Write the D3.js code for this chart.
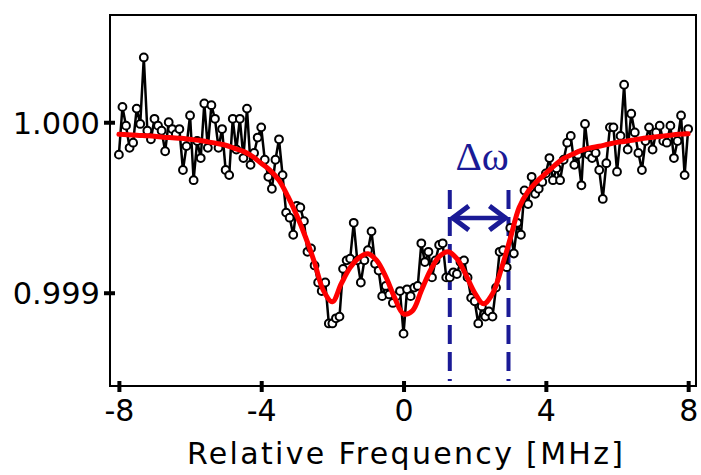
<!DOCTYPE html>
<html>
<head>
<meta charset="utf-8">
<script src="https://cdn.jsdelivr.net/npm/d3@7/dist/d3.min.js"></script>
<style>
  html, body { margin: 0; padding: 0; background: #fff; }
  svg { display: block; }
</style>
</head>
<body>
<svg id="chart" width="701" height="475"></svg>
<script>
// Measured transmission, one sample every 0.1 MHz from -8 to +8 MHz
const freqStart = -8;
const freqStep = 0.1;
const signal = [
  0.99981, 1.00009, 0.99998, 0.99985, 0.99988, 1.00008, 0.99999, 1.00038, 0.99995, 0.99990,
  1.00002, 0.99998, 0.99995, 0.99983, 1.00000, 0.99996, 0.99993, 0.99996, 0.99972, 0.99986,
  1.00004, 0.99966, 0.99989, 0.99979, 1.00011, 0.99985, 1.00010, 1.00002, 0.99985, 0.99996,
  0.99972, 0.99969, 1.00002, 0.99984, 1.00002, 0.99979, 1.00008, 0.99975, 0.99982, 0.99991,
  0.99997, 0.99978, 0.99968, 0.99961, 0.99978, 0.99990, 0.99969, 0.99947, 0.99944, 0.99934,
  0.99951, 0.99950, 0.99942, 0.99924, 0.99926, 0.99916, 0.99906, 0.99901, 0.99906, 0.99882,
  0.99882, 0.99885, 0.99886, 0.99914, 0.99919, 0.99920, 0.99941, 0.99919, 0.99906, 0.99919,
  0.99925, 0.99936, 0.99917, 0.99913, 0.99898, 0.99904, 0.99899, 0.99894, 0.99898, 0.99901,
  0.99876, 0.99902, 0.99898, 0.99903, 0.99904, 0.99929, 0.99918, 0.99924, 0.99909, 0.99919,
  0.99928, 0.99929, 0.99909, 0.99909, 0.99912, 0.99911, 0.99918, 0.99919, 0.99909, 0.99897,
  0.99895, 0.99882, 0.99892, 0.99886, 0.99889, 0.99886, 0.99903, 0.99924, 0.99925, 0.99915,
  0.99938, 0.99923, 0.99941, 0.99934, 0.99960, 0.99952, 0.99968, 0.99958, 0.99961, 0.99965,
  0.99970, 0.99979, 0.99966, 0.99973, 0.99966, 0.99978, 0.99988, 0.99992, 0.99975, 0.99981,
  0.99963, 0.99999, 0.99981, 0.99979, 0.99982, 0.99972, 0.99955, 0.99976, 0.99997, 0.99997,
  0.99971, 0.99992, 1.00022, 0.99984, 1.00005, 0.99994, 0.99982, 0.99972, 0.99989, 0.99997,
  0.99984, 0.99994, 0.99998, 0.99989, 0.99988, 0.99998, 0.99979, 0.99989, 1.00004, 0.99969,
  0.99996
];

// Fitted line shape, sampled every 0.25 MHz from -8 to +8 MHz
const fitStep = 0.25;
const fit = [
  0.999929, 0.999926, 0.999924, 0.999921, 0.999918, 0.999912, 0.999909, 0.999906, 0.999900,
  0.999894, 0.999885, 0.999876, 0.999865, 0.999847, 0.999829, 0.999800, 0.999759, 0.999718,
  0.999659, 0.999565, 0.999453, 0.999324, 0.999176, 0.999012, 0.998947, 0.999053, 0.999147,
  0.999206, 0.999229, 0.999188, 0.999094, 0.998971, 0.998876, 0.998894, 0.999012, 0.999129,
  0.999212, 0.999241, 0.999200, 0.999106, 0.999000, 0.998935, 0.998994, 0.999141, 0.999318,
  0.999500, 0.999594, 0.999653, 0.999700, 0.999747, 0.999788, 0.999812, 0.999835, 0.999850,
  0.999859, 0.999871, 0.999882, 0.999888, 0.999897, 0.999906, 0.999912, 0.999918, 0.999924,
  0.999929, 0.999932
];

const xTicks = [-8, -4, 0, 4, 8];
const yTicks = [0.999, 1.000];
const yTickLabels = ["0.999", "1.000"];
const xTitle = "Relative Frequency [MHz]";
const widthLabel = "\u0394\u03C9";
// Frequency interval marked as the splitting width
const markerRange = [1.3, 2.95];

const svg = d3.select("#chart");
const frame = { left: 110, right: 696, top: 15, bottom: 386 };

const x = d3.scaleLinear().domain([-8.25, 8.22]).range([frame.left, frame.right]);
const y = d3.scaleLinear().domain([0.998453, 1.000629]).range([frame.bottom, frame.top]);

const points = signal.map((v, i) => ({ f: freqStart + i * freqStep, v }));
const fitPts = fit.map((v, i) => ({ f: freqStart + i * fitStep, v }));

const navy = "#1a1a96";
const sans = "DejaVu Sans, sans-serif";

// Plot frame
svg.append("rect")
  .attr("x", frame.left).attr("y", frame.top)
  .attr("width", frame.right - frame.left).attr("height", frame.bottom - frame.top)
  .attr("fill", "none").attr("stroke", "#000").attr("stroke-width", 2);

// X axis ticks and labels
const xAxis = svg.append("g").attr("transform", `translate(0,${frame.bottom})`)
  .call(d3.axisBottom(x).tickValues(xTicks).tickSize(0).tickPadding(0).tickFormat(d3.format("d")));
xAxis.select(".domain").remove();
xAxis.selectAll(".tick line").remove();
xAxis.selectAll(".tick").append("line")
  .attr("x1", 0).attr("x2", 0).attr("y1", -5).attr("y2", 6)
  .attr("stroke", "#000").attr("stroke-width", 4);
xAxis.selectAll(".tick text")
  .attr("y", 35).attr("dy", null)
  .attr("font-family", sans).attr("font-size", 30).attr("fill", "#000")
  .text((d) => d < 0 ? "-" + Math.abs(d) : String(d));

// Y axis ticks and labels
const yAxis = svg.append("g").attr("transform", `translate(${frame.left},0)`)
  .call(d3.axisLeft(y).tickValues(yTicks).tickSize(0).tickPadding(0)
    .tickFormat((d, i) => yTickLabels[i]));
yAxis.select(".domain").remove();
yAxis.selectAll(".tick line").remove();
yAxis.selectAll(".tick").append("line")
  .attr("x1", -6).attr("x2", 5).attr("y1", 0).attr("y2", 0)
  .attr("stroke", "#000").attr("stroke-width", 4);
yAxis.selectAll(".tick text")
  .attr("x", -10).attr("dy", null).attr("y", 11)
  .attr("text-anchor", "end")
  .attr("font-family", sans).attr("font-size", 30.5).attr("fill", "#000");

// Axis title
svg.append("text")
  .attr("x", 405).attr("y", 464)
  .attr("text-anchor", "middle")
  .attr("font-family", sans).attr("font-size", 30)
  .attr("textLength", 436).attr("lengthAdjust", "spacing")
  .attr("fill", "#000")
  .text(xTitle);

// Splitting-width markers
markerRange.forEach(f => {
  svg.append("line")
    .attr("x1", x(f)).attr("x2", x(f))
    .attr("y1", 190).attr("y2", frame.bottom - 5)
    .attr("stroke", navy).attr("stroke-width", 4)
    .attr("stroke-dasharray", "19,8");
});

// Double-headed arrow between the markers
const ay = 218;
const ax1 = x(markerRange[0]) + 2, ax2 = x(markerRange[1]) - 2;
svg.append("line")
  .attr("x1", ax1).attr("x2", ax2).attr("y1", ay).attr("y2", ay)
  .attr("stroke", navy).attr("stroke-width", 4.5);
svg.append("path")
  .attr("d", `M${ax1 + 17},${ay - 12} L${ax1 + 1},${ay} L${ax1 + 17},${ay + 12}`)
  .attr("fill", "none").attr("stroke", navy).attr("stroke-width", 5).attr("stroke-linejoin", "miter");
svg.append("path")
  .attr("d", `M${ax2 - 17},${ay - 12} L${ax2 - 1},${ay} L${ax2 - 17},${ay + 12}`)
  .attr("fill", "none").attr("stroke", navy).attr("stroke-width", 5).attr("stroke-linejoin", "miter");

svg.append("text")
  .attr("x", (x(markerRange[0]) + x(markerRange[1])) / 2 + 3).attr("y", 170)
  .attr("text-anchor", "middle")
  .attr("font-family", "Liberation Serif, serif").attr("font-size", 41)
  .attr("fill", navy)
  .text(widthLabel);

// Data trace
const line = d3.line().x(d => x(d.f)).y(d => y(d.v));
svg.append("path")
  .datum(points)
  .attr("d", line)
  .attr("fill", "none").attr("stroke", "#000").attr("stroke-width", 2.5)
  .attr("stroke-linejoin", "round");

svg.append("g").selectAll("circle")
  .data(points)
  .join("circle")
  .attr("cx", d => x(d.f)).attr("cy", d => y(d.v))
  .attr("r", 3.9)
  .attr("fill", "#fff").attr("stroke", "#000").attr("stroke-width", 2);

// Fitted curve
svg.append("path")
  .datum(fitPts)
  .attr("d", d3.line().x(d => x(d.f)).y(d => y(d.v)).curve(d3.curveCatmullRom))
  .attr("fill", "none").attr("stroke", "#ff0000").attr("stroke-width", 5)
  .attr("stroke-linejoin", "round").attr("stroke-linecap", "round");
</script>
</body>
</html>
